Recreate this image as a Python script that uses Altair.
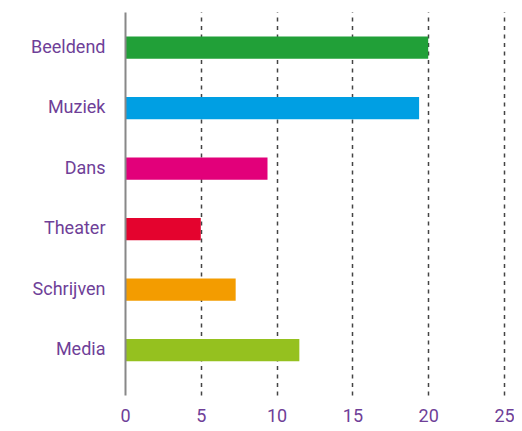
import altair as alt
import pandas as pd

categories = ["Beeldend", "Muziek", "Dans", "Theater", "Schrijven", "Media"]
values = [20.0, 19.4, 9.4, 5.0, 7.3, 11.5]
colors = ["#21a038", "#009fe3", "#e2007a", "#e4032e", "#f39c00", "#95c11f"]
x_ticks = [0, 5, 10, 15, 20, 25]

df = pd.DataFrame({"cat": categories, "val": values})

purple = "#6f3f98"

chart = alt.Chart(df).mark_bar().encode(
    x=alt.X("val:Q",
            scale=alt.Scale(domain=[0, 25], nice=False),
            axis=alt.Axis(values=x_ticks, title=None, domain=False, ticks=False,
                          grid=True, gridDash=[4, 4.5], gridColor="#444444", gridWidth=1.5,
                          gridOpacity={"condition": {"test": "datum.value === 0", "value": 0}, "value": 1},
                          labelColor=purple, labelFont="Roboto", labelFontSize=18,
                          labelPadding=12, labelFlush=False)),
    y=alt.Y("cat:N", sort=categories,
            scale=alt.Scale(paddingInner=0.63, paddingOuter=0.48, align=0.42),
            axis=alt.Axis(title=None, ticks=False, domain=True, domainColor="#888888",
                          domainWidth=2, labelColor=purple, labelFont="Roboto",
                          labelFontSize=18, labelPadding=20, grid=False, zindex=1)),
    color=alt.Color("cat:N", scale=alt.Scale(domain=categories, range=colors), legend=None),
).properties(
    width=379, height=383,
    autosize=alt.AutoSizeParams(type="none"),
    padding={"left": 117, "top": 4, "right": 10, "bottom": 30},
).configure_view(stroke=None)

chart.save("out.html", embed_options={"renderer": "svg", "actions": False})
